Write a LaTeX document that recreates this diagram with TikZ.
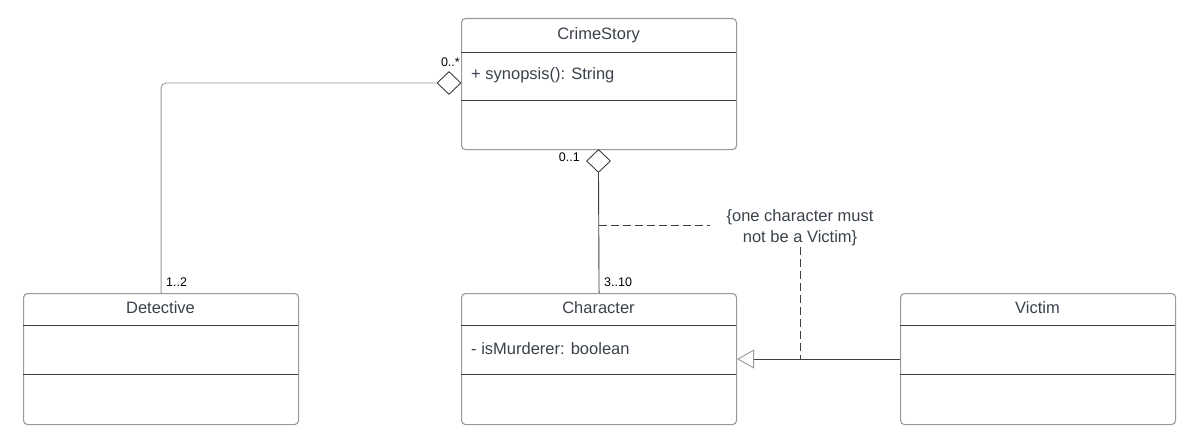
\documentclass[tikz,border=0pt]{standalone}
\usepackage{fontspec}
\setmainfont{Liberation Sans}
\usetikzlibrary{shapes.geometric,arrows.meta,calc}
\definecolor{ink}{HTML}{3A414A}
\definecolor{edge}{HTML}{9A9A9A}
\definecolor{wire}{HTML}{3A3F45}
\tikzset{
  umlbox/.style={draw=edge, line width=1.1pt, rounded corners=4pt, minimum width=275pt, minimum height=131pt, anchor=north west, inner sep=0pt},
  divline/.style={draw=wire, line width=0.9pt},
  ctitle/.style={font=\fontsize{16.5}{19}\selectfont, text=ink, inner sep=0pt},
  attr/.style={font=\fontsize{16.5}{19}\selectfont, text=ink, inner sep=0pt, anchor=west},
  mult/.style={font=\fontsize{12.5}{15}\selectfont, text=black, inner sep=0pt},
  conn/.style={draw=wire, line width=0.9pt},
  aggr/.style={diamond, draw=wire, line width=0.9pt, fill=white, minimum width=24pt, minimum height=23pt, inner sep=0pt},
  dashy/.style={draw=wire, line width=0.9pt, dash pattern=on 8pt off 4pt},
  notebox/.style={font=\fontsize{16.5}{21}\selectfont, text=ink, align=center, inner xsep=16pt, inner ysep=1pt}
}
\begin{document}
\begin{tikzpicture}[x=1pt,y=-1pt]
\useasboundingbox (0,0) rectangle (1198,441);
% classes
\node[umlbox] (cs) at (461,18) {};
\node[umlbox] (det) at (23,293) {};
\node[umlbox] (ch) at (461,293) {};
\node[umlbox] (vic) at (900,293) {};
% dividers
\draw[divline] (461,52) -- (736,52) (461,100) -- (736,100);
\draw[divline] (23,325) -- (298,325) (23,374) -- (298,374);
\draw[divline] (461,325) -- (736,325) (461,374) -- (736,374);
\draw[divline] (900,325) -- (1175,325) (900,374) -- (1175,374);
% texts
\node[ctitle] (csT) at (598.5,35) {CrimeStory};
\node[attr] (csA) at (471,75) {+ synopsis(): String};
\node[ctitle] (detT) at (160.5,308) {Detective};
\node[ctitle] (chT) at (598.5,308) {Character};
\node[attr] (chA) at (471,349) {- isMurderer: boolean};
\node[ctitle] (vicT) at (1037.5,308) {Victim};
% aggregation Detective
\node[aggr] (d1) at (449,83) {};
\draw[conn, draw=edge, rounded corners=5pt] (d1.west) -| (det.north);
\node[mult, anchor=south east] (m1) at (460,67) {0..*};
\node[mult, anchor=south west] (m2) at (166,287) {1..2};
% aggregation Character
\node[aggr] (d2) at (598.5,161) {};
\draw[conn] (d2.south) -- (ch.north);
\node[mult, anchor=south east] (m3) at (580,162) {0..1};
\node[mult, anchor=south west] (m4) at (604,287) {3..10};
% generalization
\draw[conn, -{Triangle[open, length=17pt, width=19pt, line width=0.9pt, color=edge]}] (vic.west) -- (ch.east);
% constraint note
\node[notebox] (note) at (800,228) {\{one character must\\not be a Victim\}};
\coordinate (ja) at (598.5,225);
\coordinate (jb) at (800,358.5);
\draw[dashy] (ja) -- (ja -| note.west);
\draw[dashy] (note.south) -- (jb);
\end{tikzpicture}
\end{document}
